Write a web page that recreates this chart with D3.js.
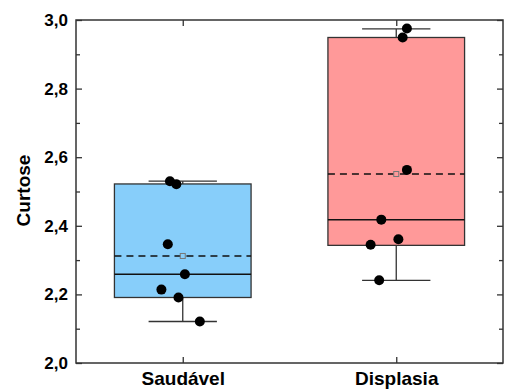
<!DOCTYPE html>
<html>
<head>
<meta charset="utf-8">
<script src="https://cdn.jsdelivr.net/npm/d3@7"></script>
<style>
  body { margin: 0; background: #fff; }
  text { font-family: "Liberation Sans", Arial, sans-serif; font-weight: bold; fill: #000; }
</style>
</head>
<body>
<div id="chart"></div>
<script>
// data
var groups = ["Saudável", "Displasia"];
var boxColors = ["#87CEFA", "#FF9999"];
var q1 = [2.191, 2.343];
var q3 = [2.522, 2.949];
var medians = [2.259, 2.418];
var means = [2.312, 2.551];
var whiskLow = [2.121, 2.241];
var whiskHigh = [2.530, 2.974];
var pointsSaudavel = [2.530, 2.521, 2.346, 2.259, 2.214, 2.191, 2.121];
var pointsDisplasia = [2.975, 2.949, 2.563, 2.418, 2.361, 2.345, 2.241];
// horizontal jitter of the dots, in category units
var jitterSaudavel = [-0.06, -0.03, -0.07, 0.01, -0.10, -0.02, 0.08];
var jitterDisplasia = [0.05, 0.03, 0.05, -0.07, 0.01, -0.12, -0.08];
var yTicks = [2.0, 2.2, 2.4, 2.6, 2.8, 3.0];
var yMinor = [2.1, 2.3, 2.5, 2.7, 2.9];

var margin = {top: 20, right: 2, bottom: 29, left: 76},
    width = 505 - margin.left - margin.right,
    height = 392 - margin.top - margin.bottom;

var svg = d3.select("#chart")
    .append("svg")
    .attr("width", 505)
    .attr("height", 392)
    .append("g")
    .attr("transform", "translate(" + margin.left + "," + margin.top + ")");

var x = d3.scaleLinear().domain([0.5, 2.5]).range([0, width]);
var y = d3.scaleLinear().domain([2.0, 3.0]).range([height, 0]);
var fmt = function(d) { return d3.format(".1f")(d).replace(".", ","); };

var boxHalf = 0.32, capHalf = 0.16;
var stroke = "#333";

// boxes
groups.forEach(function(g, i) {
  var c = i + 1;
  var box = svg.append("g");
  box.append("line")
    .attr("x1", x(c)).attr("x2", x(c))
    .attr("y1", y(whiskLow[i])).attr("y2", y(whiskHigh[i]))
    .attr("stroke", stroke).attr("stroke-width", 1.3);
  [whiskLow[i], whiskHigh[i]].forEach(function(v) {
    box.append("line")
      .attr("x1", x(c - capHalf)).attr("x2", x(c + capHalf))
      .attr("y1", y(v)).attr("y2", y(v))
      .attr("stroke", stroke).attr("stroke-width", 1.3);
  });
  box.append("rect")
    .attr("x", x(c - boxHalf))
    .attr("y", y(q3[i]))
    .attr("width", x(c + boxHalf) - x(c - boxHalf))
    .attr("height", y(q1[i]) - y(q3[i]))
    .attr("fill", boxColors[i])
    .attr("stroke", stroke).attr("stroke-width", 1.3);
  box.append("line")
    .attr("x1", x(c - boxHalf)).attr("x2", x(c + boxHalf))
    .attr("y1", y(medians[i])).attr("y2", y(medians[i]))
    .attr("stroke", "#111").attr("stroke-width", 1.5);
  box.append("line")
    .attr("x1", x(c - boxHalf)).attr("x2", x(c + boxHalf))
    .attr("y1", y(means[i])).attr("y2", y(means[i]))
    .attr("stroke", "#111").attr("stroke-width", 1.5)
    .attr("stroke-dasharray", "7,5");
  box.append("rect")
    .attr("x", x(c) - 2.5).attr("y", y(means[i]) - 2.5)
    .attr("width", 5).attr("height", 5)
    .attr("fill", boxColors[i])
    .attr("stroke", "#777").attr("stroke-width", 1);
});

// dots
var dots = [];
pointsSaudavel.forEach(function(v, k) { dots.push({c: 1 + jitterSaudavel[k], v: v}); });
pointsDisplasia.forEach(function(v, k) { dots.push({c: 2 + jitterDisplasia[k], v: v}); });
svg.append("g").selectAll("circle")
  .data(dots)
  .enter()
  .append("circle")
    .attr("cx", function(d) { return x(d.c); })
    .attr("cy", function(d) { return y(d.v); })
    .attr("r", 5)
    .attr("fill", "#000");

// axes
var left = svg.append("g")
  .call(d3.axisLeft(y).tickValues(yTicks).tickFormat(fmt).tickSizeInner(-6).tickSizeOuter(0).tickPadding(8));
svg.append("g")
  .call(d3.axisLeft(y).tickValues(yMinor).tickFormat("").tickSizeInner(-4).tickSizeOuter(0));
svg.append("g")
  .attr("transform", "translate(" + width + ",0)")
  .call(d3.axisRight(y).tickValues(yTicks).tickFormat("").tickSizeInner(-6).tickSizeOuter(0));
svg.append("g")
  .attr("transform", "translate(" + width + ",0)")
  .call(d3.axisRight(y).tickValues(yMinor).tickFormat("").tickSizeInner(-4).tickSizeOuter(0));
var bottom = svg.append("g")
  .attr("transform", "translate(0," + height + ")")
  .call(d3.axisBottom(x).tickValues([1, 2]).tickFormat(function(d) { return groups[d - 1]; })
    .tickSizeInner(-6).tickSizeOuter(0).tickPadding(9));
svg.append("g")
  .call(d3.axisTop(x).tickValues([1, 2]).tickFormat("").tickSizeInner(-6).tickSizeOuter(0));

svg.selectAll(".domain").remove();
svg.selectAll(".tick line").attr("stroke", stroke).attr("stroke-width", 1.3);
left.selectAll("text").style("font-size", "17px").attr("font-family", null);
bottom.selectAll("text").style("font-size", "19px").attr("font-family", null);

svg.append("rect")
  .attr("width", width).attr("height", height)
  .attr("fill", "none").attr("stroke", stroke).attr("stroke-width", 1.5);

svg.append("text")
  .attr("transform", "translate(" + (-46) + "," + (height / 2 - 1) + ") rotate(-90)")
  .attr("text-anchor", "middle")
  .style("font-size", "19px")
  .text("Curtose");
</script>
</body>
</html>
